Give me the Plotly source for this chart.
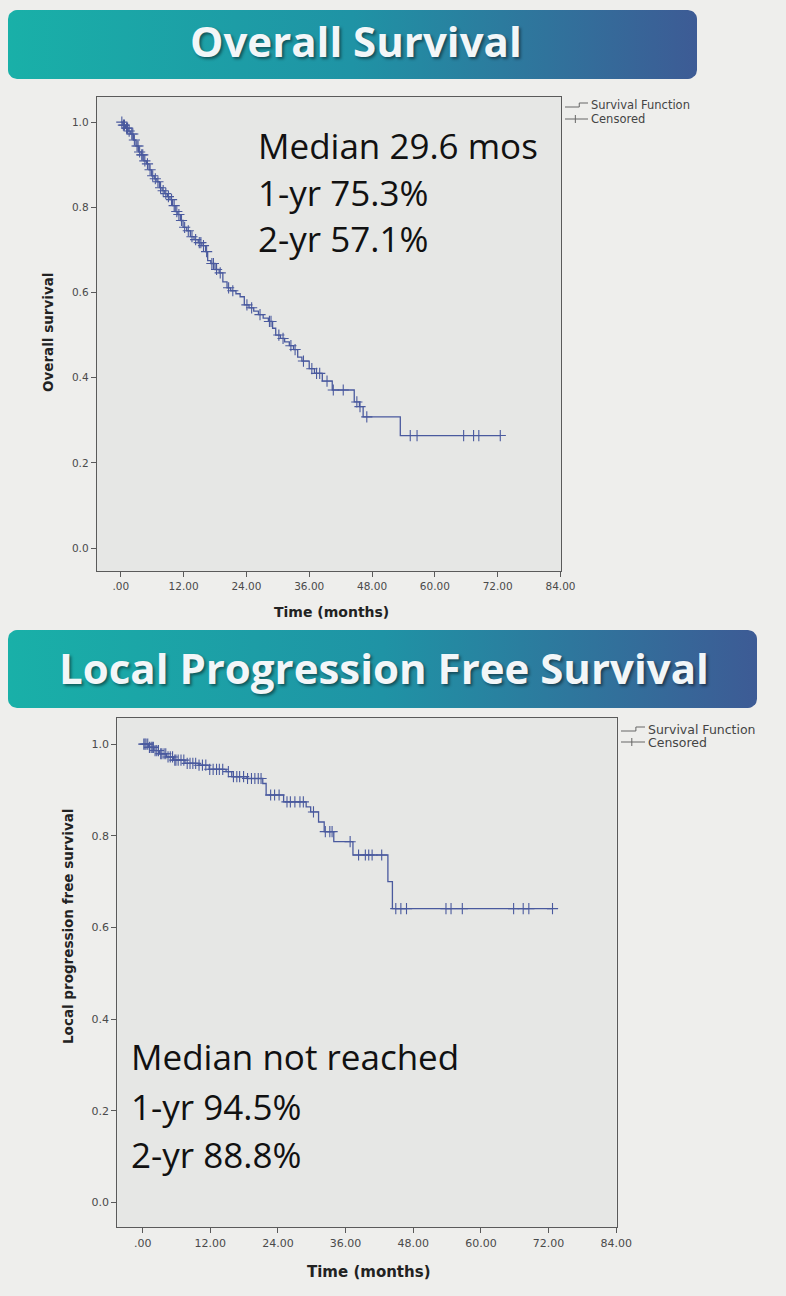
import numpy as np
import plotly.graph_objects as go

W, H = 786, 1296

# ---------------- data ----------------
# Overall survival: Kaplan-Meier step times (months) and survival after each step
os_time = [0, 0.4, 0.9, 1.4, 1.9, 2.4, 2.9, 3.4, 3.9, 4.4, 4.9, 5.4, 5.9, 6.4, 6.9, 7.4,
           7.9, 8.4, 8.9, 9.4, 9.9, 10.4, 10.9, 11.4, 11.9, 12.6, 13.3, 14.0, 14.8, 15.5,
           16.2, 16.6, 17.2, 18.0, 18.8, 19.5, 20.3, 21.0, 22.0, 22.8, 23.6, 24.5, 25.4,
           26.3, 27.2, 28.2, 29.0, 29.6, 30.5, 31.3, 32.2, 33.0, 33.8, 34.6, 36.0, 37.0,
           38.5, 40.4, 44.6, 45.6, 46.3, 53.4]
os_surv = [1.0, 0.993, 0.986, 0.979, 0.972, 0.958, 0.944, 0.930, 0.923, 0.909, 0.902,
           0.888, 0.874, 0.867, 0.860, 0.846, 0.839, 0.832, 0.825, 0.818, 0.804, 0.790,
           0.783, 0.769, 0.753, 0.745, 0.731, 0.724, 0.717, 0.710, 0.696, 0.675, 0.668,
           0.654, 0.646, 0.625, 0.611, 0.604, 0.597, 0.590, 0.571, 0.564, 0.556, 0.548,
           0.540, 0.532, 0.516, 0.500, 0.492, 0.484, 0.475, 0.466, 0.448, 0.439, 0.421,
           0.410, 0.392, 0.371, 0.343, 0.332, 0.308, 0.264]
os_end = 72.5
os_cens = [0.2, 0.5, 0.7, 1.1, 1.3, 1.6, 2.1, 2.3, 2.6, 3.1, 3.3, 3.6, 4.0, 4.2, 4.6, 5.1,
           5.6, 6.1, 6.6, 7.1, 7.6, 8.1, 8.6, 9.1, 9.7, 10.2, 10.7, 11.1, 11.6, 12.2,
           12.9, 13.6, 14.3, 15.0, 15.3, 15.8, 16.4, 17.4, 17.7, 18.3, 19.0, 20.6, 21.4,
           24.1, 25.0, 26.6, 28.4, 28.7, 30.2, 31.0, 32.5, 33.3, 34.9, 36.5, 37.4, 38.0,
           39.4, 40.6, 42.5, 45.1, 45.7, 47.0, 55.3, 56.6, 65.5, 67.4, 68.4, 72.5]

# Local progression free survival
lpfs_time = [0, 1.0, 2.0, 3.0, 4.2, 5.5, 7.5, 10.0, 11.8, 14.8, 15.8, 18.5, 21.3, 21.9,
             25.0, 29.0, 29.8, 31.2, 32.2, 33.9, 37.3, 43.5, 44.3]
lpfs_surv = [1.0, 0.993, 0.986, 0.979, 0.972, 0.965, 0.958, 0.954, 0.945, 0.940, 0.929,
             0.925, 0.914, 0.889, 0.874, 0.863, 0.852, 0.830, 0.809, 0.787, 0.758, 0.700,
             0.641]
lpfs_end = 72.7
lpfs_cens = [0.2, 0.4, 0.6, 0.9, 1.2, 1.5, 1.7, 1.9, 2.2, 2.5, 2.8, 3.2, 3.4, 3.8, 4.1,
             4.5, 4.9, 5.3, 5.7, 5.9, 6.3, 6.8, 7.3, 7.9, 8.4, 8.9, 9.4, 10.0, 10.6, 11.2,
             11.9, 12.5, 13.1, 13.6, 14.2, 15.2, 16.1, 16.7, 17.2, 17.9, 18.6, 19.3, 19.9,
             20.5, 21.0, 22.7, 23.4, 24.2, 25.6, 26.2, 27.0, 27.9, 28.5, 30.3, 32.4, 33.2,
             33.6, 36.8, 38.3, 39.5, 40.1, 40.7, 42.4, 44.9, 45.8, 46.8, 53.8, 54.7, 56.7,
             65.8, 67.5, 68.5, 72.7]

x_tickvals = [0, 12, 24, 36, 48, 60, 72, 84]
x_ticktext = [".00", "12.00", "24.00", "36.00", "48.00", "60.00", "72.00", "84.00"]
y_tickvals = [0.0, 0.2, 0.4, 0.6, 0.8, 1.0]
y_ticktext = ["0.0", "0.2", "0.4", "0.6", "0.8", "1.0"]

os_stats = ["Median 29.6 mos", "1-yr 75.3%", "2-yr 57.1%"]
lpfs_stats = ["Median not reached", "1-yr 94.5%", "2-yr 88.8%"]
titles = ["Overall Survival", "Local Progression Free Survival"]
y_titles = ["Overall survival", "Local progression free survival"]
x_title = "Time (months)"
legend_names = ["Survival Function", "Censored"]

# ---------------- styling ----------------
CURVE = "#4a5a9e"
FRAME = "#5a5a5a"
PAPER = "#eeeeec"
PLOTBG = "#e6e7e5"
LBL = "DejaVu Sans"
BIG = "Open Sans"


def px(x):
    return x / W


def py(y):
    return 1 - y / H


def surv_at(times, survs, t):
    idx = np.searchsorted(np.array(times), np.array(t), side="right") - 1
    return np.array(survs)[idx]


def rounded_rect(x0, y0, x1, y1, r, n=8):
    xs, ys = [], []
    corners = [(x1 - r, y0 + r, -90, 0), (x1 - r, y1 - r, 0, 90),
               (x0 + r, y1 - r, 90, 180), (x0 + r, y0 + r, 180, 270)]
    for cx, cy, a0, a1 in corners:
        for a in np.linspace(np.radians(a0), np.radians(a1), n):
            xs.append(cx + r * np.cos(a))
            ys.append(cy + r * np.sin(a))
    xs.append(xs[0])
    ys.append(ys[0])
    return xs, ys


fig = go.Figure()

# banners (on a full-page overlay axis)
banners = [(8, 10, 697, 79), (8, 630, 757, 708)]
for (x0, y0, x1, y1) in banners:
    bx, by = rounded_rect(x0, y0, x1, y1, 9)
    fig.add_trace(go.Scatter(
        x=bx, y=by, xaxis="x3", yaxis="y3", mode="lines", fill="toself",
        line=dict(width=0, color="rgba(0,0,0,0)"),
        fillgradient=dict(type="horizontal",
                          colorscale=[[0, "#19b0a8"], [0.5, "#1f93a5"], [1, "#3d5b95"]]),
        showlegend=False, hoverinfo="skip"))

# curves
sets = [
    (os_time, os_surv, os_end, os_cens, "x", "y"),
    (lpfs_time, lpfs_surv, lpfs_end, lpfs_cens, "x2", "y2"),
]
for times, survs, tend, cens, xa, ya in sets:
    fig.add_trace(go.Scatter(
        x=list(times) + [tend], y=list(survs) + [survs[-1]],
        mode="lines", line=dict(shape="hv", color=CURVE, width=1.3),
        name=legend_names[0], xaxis=xa, yaxis=ya, showlegend=False))
    fig.add_trace(go.Scatter(
        x=cens, y=surv_at(times, survs, cens), mode="markers",
        marker=dict(symbol="cross-thin", size=8, line=dict(width=1.1, color=CURVE)),
        name=legend_names[1], xaxis=xa, yaxis=ya, showlegend=False))

axis_common = dict(showline=True, linecolor=FRAME, linewidth=1, mirror=True,
                   ticks="outside", ticklen=5, tickcolor=FRAME, tickwidth=1,
                   showgrid=False, zeroline=False, fixedrange=True, automargin=False)

shapes = [
    dict(type="rect", xref="x domain", yref="y domain", x0=0, x1=1, y0=0, y1=1,
         fillcolor=PLOTBG, line=dict(width=0), layer="below"),
    dict(type="rect", xref="x2 domain", yref="y2 domain", x0=0, x1=1, y0=0, y1=1,
         fillcolor=PLOTBG, line=dict(width=0), layer="below"),
]

ann = []
# custom legends: (symbol left, symbol right, text x, row1 y, row2 y, font size)
for (sx0, sx1, tx, r1, r2, fs) in [(565, 588, 589, 105, 119, 11.5),
                                   (621, 645, 646, 729, 742, 12.5)]:
    step_x = sx0 + (sx1 - sx0) * 0.62
    shapes.append(dict(
        type="path", xref="paper", yref="paper",
        path=(f"M {px(sx0)},{py(r1 + 2)} L {px(step_x)},{py(r1 + 2)} "
              f"L {px(step_x)},{py(r1 - 2)} L {px(sx1)},{py(r1 - 2)}"),
        line=dict(color="#666", width=1)))
    shapes.append(dict(type="line", xref="paper", yref="paper",
                       x0=px(sx0), x1=px(sx1), y0=py(r2), y1=py(r2),
                       line=dict(color="#666", width=1)))
    tick_x = sx0 + (sx1 - sx0) * 0.45
    shapes.append(dict(type="line", xref="paper", yref="paper",
                       x0=px(tick_x), x1=px(tick_x), y0=py(r2 - 4), y1=py(r2 + 4),
                       line=dict(color="#666", width=1)))
    for name, yy in zip(legend_names, [r1, r2]):
        ann.append(dict(text=name, x=px(tx), y=py(yy), xref="paper", yref="paper",
                        xanchor="left", yanchor="middle", showarrow=False,
                        font=dict(family=LBL, size=fs, color="#444")))

fig.update_layout(
    template="none",
    width=W, height=H, autosize=False,
    margin=dict(l=0, r=0, t=0, b=0, pad=0, autoexpand=False),
    paper_bgcolor=PAPER, plot_bgcolor="rgba(0,0,0,0)",
    xaxis=dict(domain=[px(96.7), px(561)], range=[-4.6, 84.1], tickvals=x_tickvals,
               ticktext=x_ticktext, anchor="y",
               tickfont=dict(family=LBL, size=10.5, color="#4a4a4a"), **axis_common),
    yaxis=dict(domain=[py(571), py(97)], range=[-0.054, 1.059], tickvals=y_tickvals,
               ticktext=y_ticktext, anchor="x",
               tickfont=dict(family=LBL, size=10.5, color="#4a4a4a"), **axis_common),
    xaxis2=dict(domain=[px(117.3), px(616.5)], range=[-4.5, 84.05], tickvals=x_tickvals,
                ticktext=x_ticktext, anchor="y2",
                tickfont=dict(family=LBL, size=11, color="#4a4a4a"), **axis_common),
    yaxis2=dict(domain=[py(1227.3), py(718)], range=[-0.0545, 1.057], tickvals=y_tickvals,
                ticktext=y_ticktext, anchor="x2",
                tickfont=dict(family=LBL, size=11, color="#4a4a4a"), **axis_common),
    xaxis3=dict(domain=[0, 1], range=[0, W], visible=False, anchor="y3",
                fixedrange=True, automargin=False),
    yaxis3=dict(domain=[0, 1], range=[H, 0], visible=False, anchor="x3",
                fixedrange=True, automargin=False),
    showlegend=False,
    shapes=shapes,
)

# banner titles
for txt, (cx, cy), size in zip(titles, [(356, 41), (384, 667)], [42, 42]):
    ann.append(dict(text=f"<b>{txt}</b>", x=px(cx), y=py(cy), xref="paper", yref="paper",
                    xanchor="center", yanchor="middle", showarrow=False,
                    font=dict(family=BIG, size=size, color="#f2f6f8",
                              shadow="2px 2px 3px rgba(0,0,0,0.45)")))
# stats text
for txt, yy in zip(os_stats, [145, 192, 238]):
    ann.append(dict(text=txt, x=px(256), y=py(yy), xref="paper", yref="paper",
                    xanchor="left", yanchor="middle", showarrow=False,
                    font=dict(family=BIG, size=35, color="#111")))
for txt, yy in zip(lpfs_stats, [1056, 1106, 1154]):
    ann.append(dict(text=txt, x=px(129), y=py(yy), xref="paper", yref="paper",
                    xanchor="left", yanchor="middle", showarrow=False,
                    font=dict(family=BIG, size=35, color="#111")))
# axis titles
for (cx, cy), size in zip([(331, 612), (369, 1272)], [14, 15]):
    ann.append(dict(text=f"<b>{x_title}</b>", x=px(cx), y=py(cy), xref="paper",
                    yref="paper", xanchor="center", yanchor="middle", showarrow=False,
                    font=dict(family=LBL, size=size, color="#222")))
for txt, (cx, cy), size in zip(y_titles, [(48, 333), (68, 926)], [13.5, 13.5]):
    ann.append(dict(text=f"<b>{txt}</b>", x=px(cx), y=py(cy), xref="paper",
                    yref="paper", xanchor="center", yanchor="middle", showarrow=False,
                    textangle=-90, font=dict(family=LBL, size=size, color="#222")))
fig.update_layout(annotations=ann)

fig.write_html("out.html", config={"responsive": False})
